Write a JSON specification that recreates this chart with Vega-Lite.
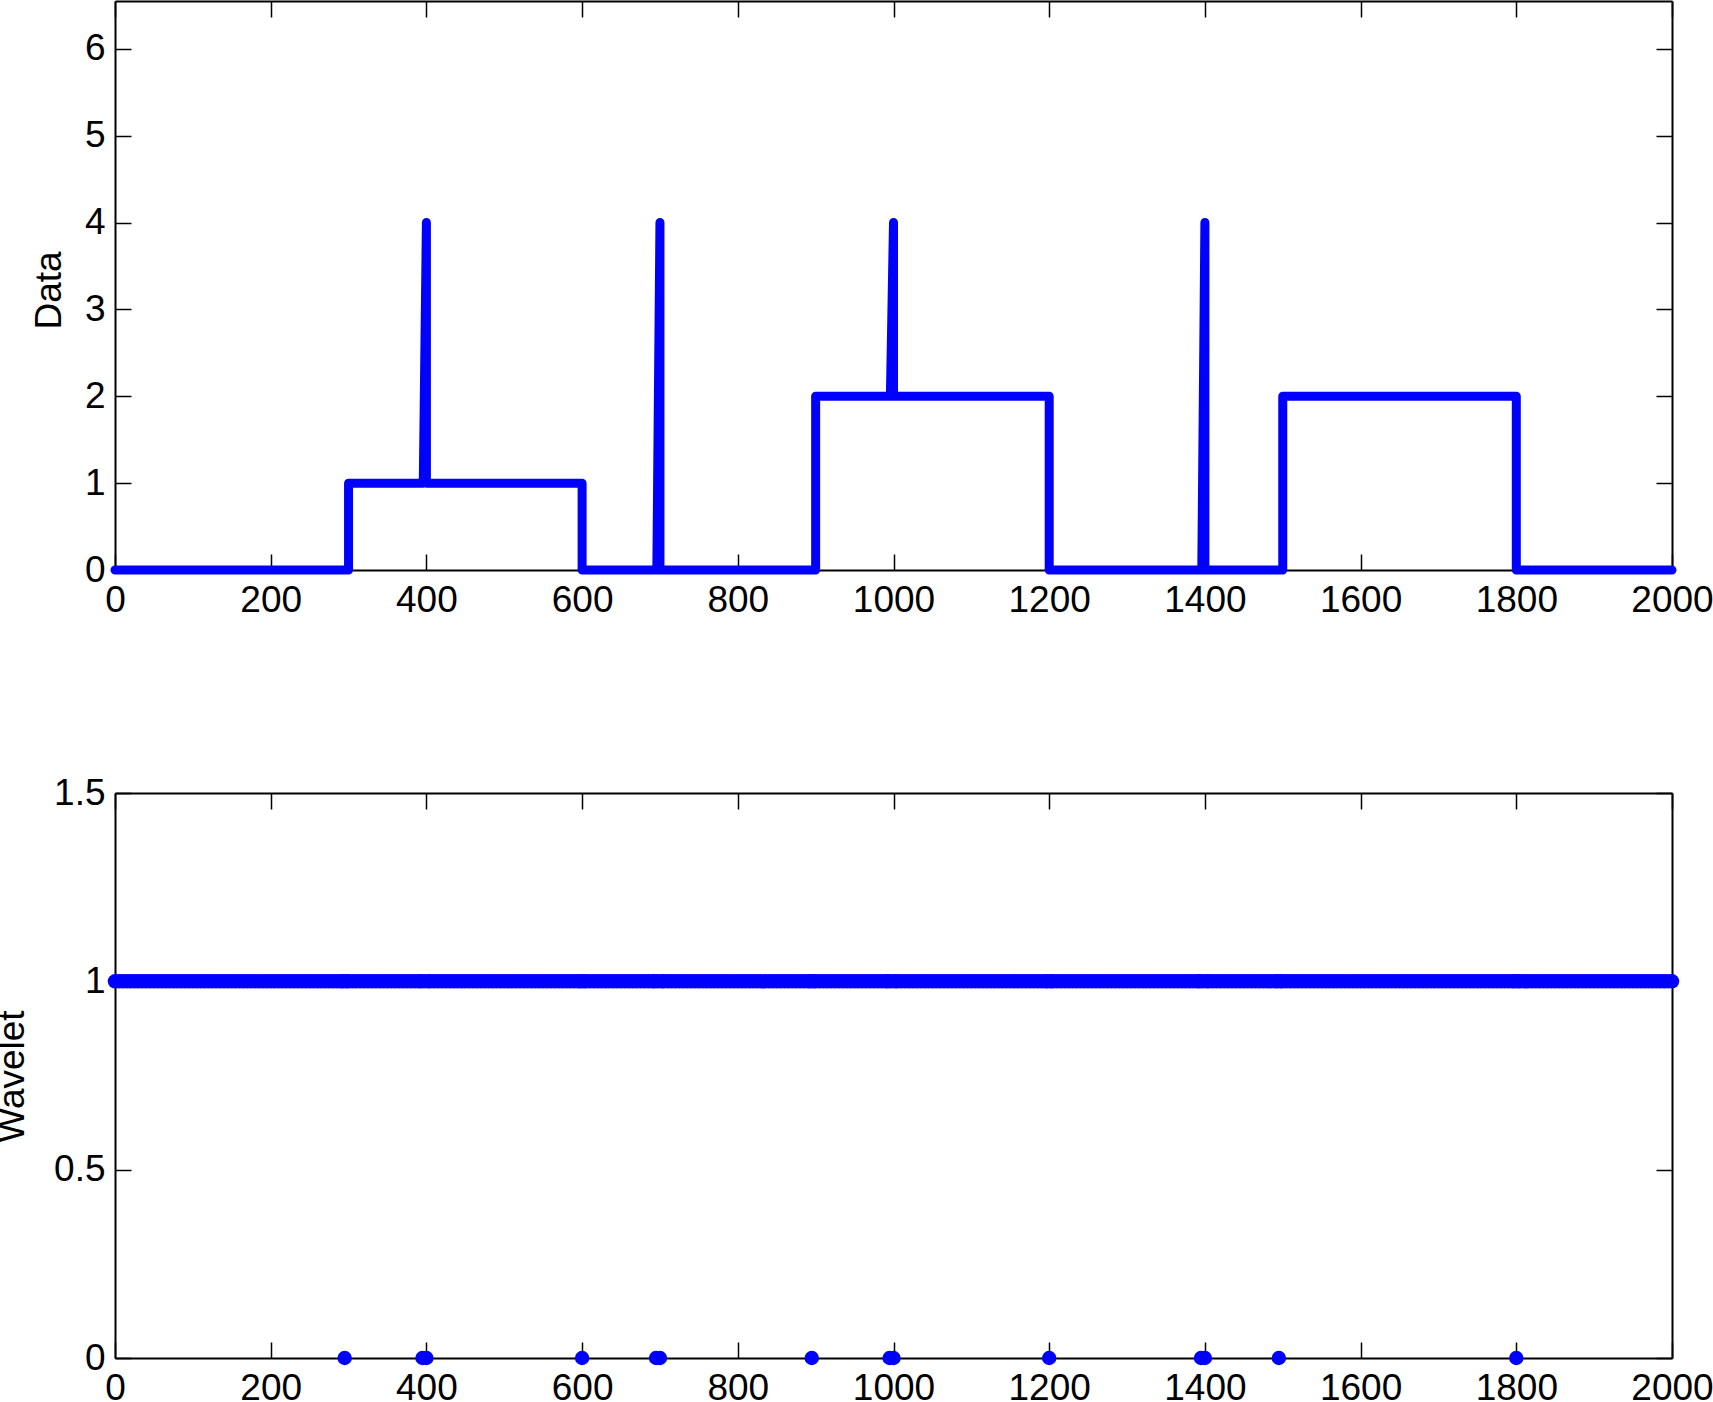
{
  "$schema": "https://vega.github.io/schema/vega-lite/v6.json",
  "autosize": {"type": "pad"},
  "padding": {"left": -7, "top": 0, "right": 0, "bottom": 30},
  "background": "white",
  "bounds": "flush",
  "spacing": 223,
  "config": {
    "view": {"stroke": null},
    "font": "Liberation Sans",
    "axis": {
      "labelFont": "Liberation Sans", "titleFont": "Liberation Sans",
      "labelFontSize": 37, "titleFontSize": 37, "titleFontWeight": "normal",
      "labelColor": "black", "titleColor": "black", "domainColor": "black", "tickColor": "black",
      "domainWidth": 2, "tickWidth": 1.5, "grid": false, "labelFlush": false, "labelOverlap": false,
      "labelExpr": "'' + datum.value"
    }
  },
  "vconcat": [
    {
      "width": 1557, "height": 569,
      "data": {"values": [
        {"i": 1, "t": 0, "v": 0}, {"i": 2, "t": 300, "v": 0}, {"i": 3, "t": 300, "v": 1},
        {"i": 4, "t": 396, "v": 1}, {"i": 5, "t": 400, "v": 4}, {"i": 6, "t": 400, "v": 1},
        {"i": 7, "t": 600, "v": 1}, {"i": 8, "t": 600, "v": 0}, {"i": 9, "t": 696, "v": 0},
        {"i": 10, "t": 700, "v": 4}, {"i": 11, "t": 700, "v": 0}, {"i": 12, "t": 900, "v": 0},
        {"i": 13, "t": 900, "v": 2}, {"i": 14, "t": 996, "v": 2}, {"i": 15, "t": 1000, "v": 4},
        {"i": 16, "t": 1000, "v": 2}, {"i": 17, "t": 1200, "v": 2}, {"i": 18, "t": 1200, "v": 0},
        {"i": 19, "t": 1396, "v": 0}, {"i": 20, "t": 1400, "v": 4}, {"i": 21, "t": 1400, "v": 0},
        {"i": 22, "t": 1500, "v": 0}, {"i": 23, "t": 1500, "v": 2}, {"i": 24, "t": 1800, "v": 2},
        {"i": 25, "t": 1800, "v": 0}, {"i": 26, "t": 2000, "v": 0}
      ]},
      "layer": [
        {
          "mark": {"type": "line", "color": "#0000ff", "strokeWidth": 9, "strokeCap": "round", "strokeJoin": "round"},
          "encoding": {
            "x": {"field": "t", "type": "quantitative", "scale": {"domain": [0, 2000], "nice": false, "zero": false},
                  "axis": {"orient": "bottom", "values": [0,200,400,600,800,1000,1200,1400,1600,1800,2000], "tickSize": -16, "labelPadding": 28, "title": null}},
            "y": {"field": "v", "type": "quantitative", "scale": {"domain": [0, 6.55], "nice": false},
                  "axis": {"orient": "left", "values": [0,1,2,3,4,5,6], "tickSize": -16, "labelPadding": 26, "title": "Data", "titleX": -55, "titleY": 289, "titleBaseline": "alphabetic", "titleAngle": -90, "titleAlign": "center"}},
            "order": {"field": "i", "type": "quantitative"}
          }
        },
        {
          "mark": {"type": "point", "opacity": 0},
          "encoding": {
            "x": {"field": "t", "type": "quantitative", "scale": {"domain": [0, 2000], "nice": false, "zero": false},
                  "axis": {"orient": "top", "values": [0,200,400,600,800,1000,1200,1400,1600,1800,2000], "tickSize": -16, "labels": false, "title": null}},
            "y": {"field": "v", "type": "quantitative", "scale": {"domain": [0, 6.55], "nice": false},
                  "axis": {"orient": "right", "values": [0,1,2,3,4,5,6], "tickSize": -16, "labels": false, "title": null}}
          }
        }
      ],
      "resolve": {"axis": {"x": "independent", "y": "independent"}}
    },
    {
      "width": 1557, "height": 565,
      "data": {"values": [
        {"n": 295, "w": 0}, {"n": 395, "w": 0}, {"n": 400, "w": 0}, {"n": 600, "w": 0}, {"n": 695, "w": 0},
        {"n": 700, "w": 0}, {"n": 895, "w": 0}, {"n": 995, "w": 0}, {"n": 1000, "w": 0}, {"n": 1200, "w": 0},
        {"n": 1395, "w": 0}, {"n": 1400, "w": 0}, {"n": 1495, "w": 0}, {"n": 1800, "w": 0},
        {"n":293,"w":1},{"n":297,"w":1},{"n":393,"w":1},{"n":397,"w":1},{"n":402,"w":1},{"n":598,"w":1},{"n":602,"w":1},
        {"n":693,"w":1},{"n":697,"w":1},{"n":702,"w":1},{"n":893,"w":1},{"n":897,"w":1},{"n":993,"w":1},{"n":997,"w":1},{"n":1002,"w":1},
        {"n":1198,"w":1},{"n":1202,"w":1},{"n":1393,"w":1},{"n":1397,"w":1},{"n":1402,"w":1},{"n":1493,"w":1},{"n":1497,"w":1},{"n":1798,"w":1},{"n":1802,"w":1},
        {"n":0,"w":1},{"n":5,"w":1},{"n":10,"w":1},{"n":15,"w":1},{"n":20,"w":1},{"n":25,"w":1},{"n":30,"w":1},{"n":35,"w":1},{"n":40,"w":1},{"n":45,"w":1},
        {"n":50,"w":1},{"n":55,"w":1},{"n":60,"w":1},{"n":65,"w":1},{"n":70,"w":1},{"n":75,"w":1},{"n":80,"w":1},{"n":85,"w":1},{"n":90,"w":1},{"n":95,"w":1},
        {"n":100,"w":1},{"n":105,"w":1},{"n":110,"w":1},{"n":115,"w":1},{"n":120,"w":1},{"n":125,"w":1},{"n":130,"w":1},{"n":135,"w":1},{"n":140,"w":1},{"n":145,"w":1},
        {"n":150,"w":1},{"n":155,"w":1},{"n":160,"w":1},{"n":165,"w":1},{"n":170,"w":1},{"n":175,"w":1},{"n":180,"w":1},{"n":185,"w":1},{"n":190,"w":1},{"n":195,"w":1},
        {"n":200,"w":1},{"n":205,"w":1},{"n":210,"w":1},{"n":215,"w":1},{"n":220,"w":1},{"n":225,"w":1},{"n":230,"w":1},{"n":235,"w":1},{"n":240,"w":1},{"n":245,"w":1},
        {"n":250,"w":1},{"n":255,"w":1},{"n":260,"w":1},{"n":265,"w":1},{"n":270,"w":1},{"n":275,"w":1},{"n":280,"w":1},{"n":285,"w":1},{"n":290,"w":1},
        {"n":300,"w":1},{"n":305,"w":1},{"n":310,"w":1},{"n":315,"w":1},{"n":320,"w":1},{"n":325,"w":1},{"n":330,"w":1},{"n":335,"w":1},{"n":340,"w":1},{"n":345,"w":1},
        {"n":350,"w":1},{"n":355,"w":1},{"n":360,"w":1},{"n":365,"w":1},{"n":370,"w":1},{"n":375,"w":1},{"n":380,"w":1},{"n":385,"w":1},{"n":390,"w":1},
        {"n":405,"w":1},{"n":410,"w":1},{"n":415,"w":1},{"n":420,"w":1},{"n":425,"w":1},{"n":430,"w":1},{"n":435,"w":1},{"n":440,"w":1},{"n":445,"w":1},
        {"n":450,"w":1},{"n":455,"w":1},{"n":460,"w":1},{"n":465,"w":1},{"n":470,"w":1},{"n":475,"w":1},{"n":480,"w":1},{"n":485,"w":1},{"n":490,"w":1},{"n":495,"w":1},
        {"n":500,"w":1},{"n":505,"w":1},{"n":510,"w":1},{"n":515,"w":1},{"n":520,"w":1},{"n":525,"w":1},{"n":530,"w":1},{"n":535,"w":1},{"n":540,"w":1},{"n":545,"w":1},
        {"n":550,"w":1},{"n":555,"w":1},{"n":560,"w":1},{"n":565,"w":1},{"n":570,"w":1},{"n":575,"w":1},{"n":580,"w":1},{"n":585,"w":1},{"n":590,"w":1},{"n":595,"w":1},
        {"n":605,"w":1},{"n":610,"w":1},{"n":615,"w":1},{"n":620,"w":1},{"n":625,"w":1},{"n":630,"w":1},{"n":635,"w":1},{"n":640,"w":1},{"n":645,"w":1},
        {"n":650,"w":1},{"n":655,"w":1},{"n":660,"w":1},{"n":665,"w":1},{"n":670,"w":1},{"n":675,"w":1},{"n":680,"w":1},{"n":685,"w":1},{"n":690,"w":1},
        {"n":705,"w":1},{"n":710,"w":1},{"n":715,"w":1},{"n":720,"w":1},{"n":725,"w":1},{"n":730,"w":1},{"n":735,"w":1},{"n":740,"w":1},{"n":745,"w":1},
        {"n":750,"w":1},{"n":755,"w":1},{"n":760,"w":1},{"n":765,"w":1},{"n":770,"w":1},{"n":775,"w":1},{"n":780,"w":1},{"n":785,"w":1},{"n":790,"w":1},{"n":795,"w":1},
        {"n":800,"w":1},{"n":805,"w":1},{"n":810,"w":1},{"n":815,"w":1},{"n":820,"w":1},{"n":825,"w":1},{"n":830,"w":1},{"n":835,"w":1},{"n":840,"w":1},{"n":845,"w":1},
        {"n":850,"w":1},{"n":855,"w":1},{"n":860,"w":1},{"n":865,"w":1},{"n":870,"w":1},{"n":875,"w":1},{"n":880,"w":1},{"n":885,"w":1},{"n":890,"w":1},
        {"n":900,"w":1},{"n":905,"w":1},{"n":910,"w":1},{"n":915,"w":1},{"n":920,"w":1},{"n":925,"w":1},{"n":930,"w":1},{"n":935,"w":1},{"n":940,"w":1},{"n":945,"w":1},
        {"n":950,"w":1},{"n":955,"w":1},{"n":960,"w":1},{"n":965,"w":1},{"n":970,"w":1},{"n":975,"w":1},{"n":980,"w":1},{"n":985,"w":1},{"n":990,"w":1},
        {"n":1005,"w":1},{"n":1010,"w":1},{"n":1015,"w":1},{"n":1020,"w":1},{"n":1025,"w":1},{"n":1030,"w":1},{"n":1035,"w":1},{"n":1040,"w":1},{"n":1045,"w":1},
        {"n":1050,"w":1},{"n":1055,"w":1},{"n":1060,"w":1},{"n":1065,"w":1},{"n":1070,"w":1},{"n":1075,"w":1},{"n":1080,"w":1},{"n":1085,"w":1},{"n":1090,"w":1},{"n":1095,"w":1},
        {"n":1100,"w":1},{"n":1105,"w":1},{"n":1110,"w":1},{"n":1115,"w":1},{"n":1120,"w":1},{"n":1125,"w":1},{"n":1130,"w":1},{"n":1135,"w":1},{"n":1140,"w":1},{"n":1145,"w":1},
        {"n":1150,"w":1},{"n":1155,"w":1},{"n":1160,"w":1},{"n":1165,"w":1},{"n":1170,"w":1},{"n":1175,"w":1},{"n":1180,"w":1},{"n":1185,"w":1},{"n":1190,"w":1},{"n":1195,"w":1},
        {"n":1205,"w":1},{"n":1210,"w":1},{"n":1215,"w":1},{"n":1220,"w":1},{"n":1225,"w":1},{"n":1230,"w":1},{"n":1235,"w":1},{"n":1240,"w":1},{"n":1245,"w":1},
        {"n":1250,"w":1},{"n":1255,"w":1},{"n":1260,"w":1},{"n":1265,"w":1},{"n":1270,"w":1},{"n":1275,"w":1},{"n":1280,"w":1},{"n":1285,"w":1},{"n":1290,"w":1},{"n":1295,"w":1},
        {"n":1300,"w":1},{"n":1305,"w":1},{"n":1310,"w":1},{"n":1315,"w":1},{"n":1320,"w":1},{"n":1325,"w":1},{"n":1330,"w":1},{"n":1335,"w":1},{"n":1340,"w":1},{"n":1345,"w":1},
        {"n":1350,"w":1},{"n":1355,"w":1},{"n":1360,"w":1},{"n":1365,"w":1},{"n":1370,"w":1},{"n":1375,"w":1},{"n":1380,"w":1},{"n":1385,"w":1},{"n":1390,"w":1},
        {"n":1405,"w":1},{"n":1410,"w":1},{"n":1415,"w":1},{"n":1420,"w":1},{"n":1425,"w":1},{"n":1430,"w":1},{"n":1435,"w":1},{"n":1440,"w":1},{"n":1445,"w":1},
        {"n":1450,"w":1},{"n":1455,"w":1},{"n":1460,"w":1},{"n":1465,"w":1},{"n":1470,"w":1},{"n":1475,"w":1},{"n":1480,"w":1},{"n":1485,"w":1},{"n":1490,"w":1},
        {"n":1500,"w":1},{"n":1505,"w":1},{"n":1510,"w":1},{"n":1515,"w":1},{"n":1520,"w":1},{"n":1525,"w":1},{"n":1530,"w":1},{"n":1535,"w":1},{"n":1540,"w":1},{"n":1545,"w":1},
        {"n":1550,"w":1},{"n":1555,"w":1},{"n":1560,"w":1},{"n":1565,"w":1},{"n":1570,"w":1},{"n":1575,"w":1},{"n":1580,"w":1},{"n":1585,"w":1},{"n":1590,"w":1},{"n":1595,"w":1},
        {"n":1600,"w":1},{"n":1605,"w":1},{"n":1610,"w":1},{"n":1615,"w":1},{"n":1620,"w":1},{"n":1625,"w":1},{"n":1630,"w":1},{"n":1635,"w":1},{"n":1640,"w":1},{"n":1645,"w":1},
        {"n":1650,"w":1},{"n":1655,"w":1},{"n":1660,"w":1},{"n":1665,"w":1},{"n":1670,"w":1},{"n":1675,"w":1},{"n":1680,"w":1},{"n":1685,"w":1},{"n":1690,"w":1},{"n":1695,"w":1},
        {"n":1700,"w":1},{"n":1705,"w":1},{"n":1710,"w":1},{"n":1715,"w":1},{"n":1720,"w":1},{"n":1725,"w":1},{"n":1730,"w":1},{"n":1735,"w":1},{"n":1740,"w":1},{"n":1745,"w":1},
        {"n":1750,"w":1},{"n":1755,"w":1},{"n":1760,"w":1},{"n":1765,"w":1},{"n":1770,"w":1},{"n":1775,"w":1},{"n":1780,"w":1},{"n":1785,"w":1},{"n":1790,"w":1},{"n":1795,"w":1},
        {"n":1805,"w":1},{"n":1810,"w":1},{"n":1815,"w":1},{"n":1820,"w":1},{"n":1825,"w":1},{"n":1830,"w":1},{"n":1835,"w":1},{"n":1840,"w":1},{"n":1845,"w":1},
        {"n":1850,"w":1},{"n":1855,"w":1},{"n":1860,"w":1},{"n":1865,"w":1},{"n":1870,"w":1},{"n":1875,"w":1},{"n":1880,"w":1},{"n":1885,"w":1},{"n":1890,"w":1},{"n":1895,"w":1},
        {"n":1900,"w":1},{"n":1905,"w":1},{"n":1910,"w":1},{"n":1915,"w":1},{"n":1920,"w":1},{"n":1925,"w":1},{"n":1930,"w":1},{"n":1935,"w":1},{"n":1940,"w":1},{"n":1945,"w":1},
        {"n":1950,"w":1},{"n":1955,"w":1},{"n":1960,"w":1},{"n":1965,"w":1},{"n":1970,"w":1},{"n":1975,"w":1},{"n":1980,"w":1},{"n":1985,"w":1},{"n":1990,"w":1},{"n":1995,"w":1},
        {"n":2000,"w":1}
      ]},
      "layer": [
        {
          "mark": {"type": "point", "filled": true, "color": "#0000ff", "opacity": 1, "size": 210, "strokeWidth": 0},
          "encoding": {
            "x": {"field": "n", "type": "quantitative", "scale": {"domain": [0, 2000], "nice": false, "zero": false},
                  "axis": {"orient": "bottom", "values": [0,200,400,600,800,1000,1200,1400,1600,1800,2000], "tickSize": -16, "labelPadding": 28, "title": null}},
            "y": {"field": "w", "type": "quantitative", "scale": {"domain": [0, 1.5], "nice": false},
                  "axis": {"orient": "left", "values": [0,0.5,1,1.5], "tickSize": -16, "labelPadding": 26, "title": "Wavelet", "titleX": -92, "titleY": 283, "titleBaseline": "alphabetic", "titleAngle": -90, "titleAlign": "center"}}
          }
        },
        {
          "mark": {"type": "point", "opacity": 0},
          "encoding": {
            "x": {"field": "n", "type": "quantitative", "scale": {"domain": [0, 2000], "nice": false, "zero": false},
                  "axis": {"orient": "top", "values": [0,200,400,600,800,1000,1200,1400,1600,1800,2000], "tickSize": -16, "labels": false, "title": null}},
            "y": {"field": "w", "type": "quantitative", "scale": {"domain": [0, 1.5], "nice": false},
                  "axis": {"orient": "right", "values": [0,0.5,1,1.5], "tickSize": -16, "labels": false, "title": null}}
          }
        }
      ],
      "resolve": {"axis": {"x": "independent", "y": "independent"}}
    }
  ]
}
